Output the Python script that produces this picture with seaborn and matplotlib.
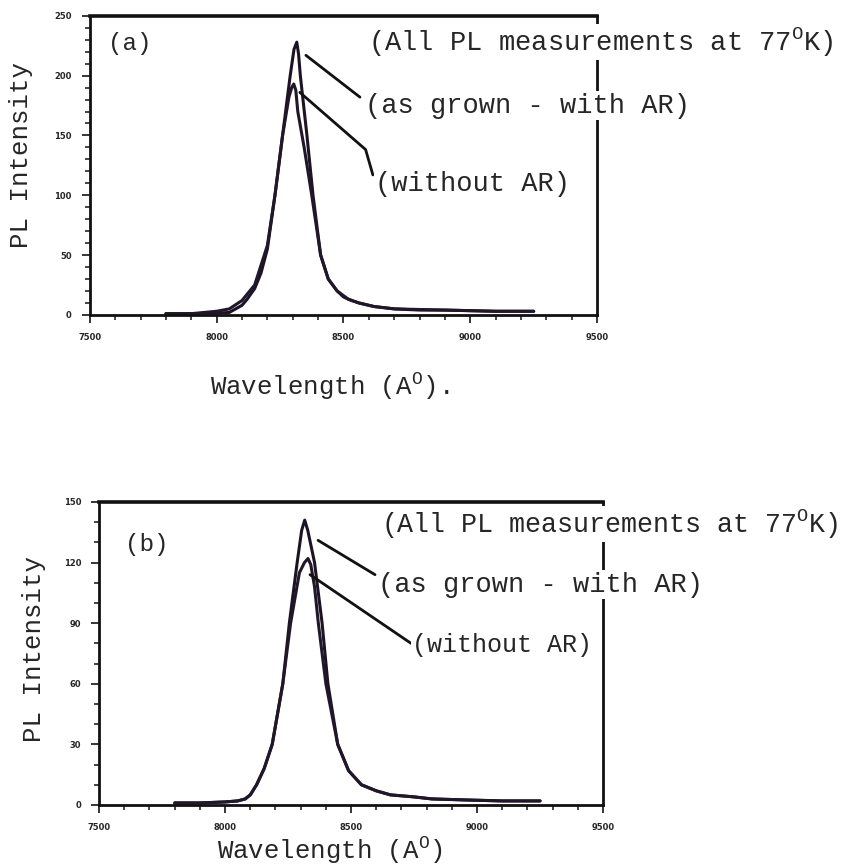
import numpy as np
import pandas as pd
import seaborn as sns
import matplotlib.pyplot as plt
from matplotlib.ticker import MultipleLocator

# --- data ---
# panel (a)
wl_a_ar = [7800, 7900, 8000, 8050, 8100, 8120, 8150, 8175, 8200, 8230, 8260, 8290, 8305, 8316,
           8323, 8330, 8356, 8380, 8410, 8440, 8475, 8500, 8520, 8560, 8600, 8620, 8700, 8800,
           8900, 9000, 9100, 9250]
pl_a_ar = [1, 1, 1.5, 2, 8, 13, 22, 35, 55, 100, 150, 200, 222, 228,
           218, 200, 150, 100, 50, 30, 20, 15, 13, 10, 8, 7, 5, 4,
           4, 3.5, 3, 3]
wl_a_noar = [7800, 7900, 7950, 8000, 8050, 8100, 8150, 8200, 8230, 8260, 8285, 8296, 8304, 8312,
             8320, 8345, 8375, 8410, 8440, 8475, 8520, 8560, 8620, 8700, 8800, 8900, 9000,
             9100, 9250]
pl_a_noar = [1, 1, 2, 3, 5, 12, 25, 58, 100, 150, 182, 190, 193, 188,
             170, 140, 100, 50, 30, 20, 13, 10, 7, 5, 4.5, 4, 3.5,
             3, 3]

# panel (b)
wl_b_ar = [7800, 7900, 8000, 8050, 8080, 8100, 8125, 8155, 8187, 8229, 8255, 8286, 8304, 8316,
           8328, 8355, 8385, 8408, 8447, 8490, 8541, 8600, 8656, 8750, 8820, 8950, 9100, 9250]
pl_b_ar = [1, 1, 1.5, 2, 3, 5, 10, 18, 30, 60, 90, 120, 136, 141,
           136, 120, 90, 60, 30, 17, 10, 7, 5, 4, 3, 2.5, 2, 2]
wl_b_noar = [7800, 7900, 8000, 8050, 8080, 8100, 8125, 8155, 8187, 8229, 8260, 8295, 8315, 8329,
             8340, 8355, 8370, 8400, 8447, 8490, 8541, 8600, 8656, 8750, 8820, 8950, 9100, 9250]
pl_b_noar = [1, 1, 1.5, 2, 3, 5, 10, 18, 30, 60, 90, 115, 120, 122,
             119, 108, 90, 60, 30, 17, 10, 7, 5, 4, 3, 2.5, 2, 2]

series_names = ['as grown - with AR', 'without AR']
x_ticks = [7500, 8000, 8500, 9000, 9500]
note_text = '(All PL measurements at 77$^{\\mathrm{O}}$K)'

sns.set_style('ticks')
plt.rcParams['font.family'] = ['Liberation Mono', 'DejaVu Sans Mono']
plt.rcParams['mathtext.fontset'] = 'custom'
plt.rcParams['mathtext.rm'] = 'Liberation Mono'

def make_frame(wl_ar, pl_ar, wl_noar, pl_noar):
    d1 = pd.DataFrame({'wl': wl_ar, 'pl': pl_ar, 'sample': series_names[0]})
    d2 = pd.DataFrame({'wl': wl_noar, 'pl': pl_noar, 'sample': series_names[1]})
    return pd.concat([d1, d2], ignore_index=True)

fig = plt.figure(figsize=(8.47, 8.65), dpi=100)
ax_a = fig.add_axes([0.106, 0.636, 0.599, 0.3457])
ax_b = fig.add_axes([0.117, 0.0694, 0.595, 0.3503])

panels = [
    dict(ax=ax_a, df=make_frame(wl_a_ar, pl_a_ar, wl_a_noar, pl_a_noar), ymax=250, ymaj=50,
         xlabel='Wavelength (A$^{\\mathrm{O}}$).', xlab_pos=(0.473, -0.185),
         ylab_pos=(-0.112, 0.535)),
    dict(ax=ax_b, df=make_frame(wl_b_ar, pl_b_ar, wl_b_noar, pl_b_noar), ymax=150, ymaj=30,
         xlabel='Wavelength (A$^{\\mathrm{O}}$)', xlab_pos=(0.458, -0.098),
         ylab_pos=(-0.105, 0.515)),
]

for p in panels:
    ax = p['ax']
    sns.lineplot(data=p['df'], x='wl', y='pl', hue='sample', estimator=None, sort=False,
                 palette=['#1c1424', '#20182a'], linewidth=2.2, legend=False, ax=ax)
    ax.set_xlim(7500, 9500)
    ax.set_ylim(0, p['ymax'])
    ax.set_xticks(x_ticks)
    ax.xaxis.set_minor_locator(MultipleLocator(100))
    ax.yaxis.set_major_locator(MultipleLocator(p['ymaj']))
    ax.yaxis.set_minor_locator(MultipleLocator(10))
    ax.tick_params(which='major', direction='out', length=6, width=1.3, labelsize=6, pad=7)
    ax.tick_params(which='minor', direction='out', length=3.5, width=1.2)
    for lab in ax.get_xticklabels() + ax.get_yticklabels():
        lab.set_fontfamily('DejaVu Sans')
        lab.set_fontweight('bold')
    for sp in ax.spines.values():
        sp.set_visible(True)
        sp.set_linewidth(2)
        sp.set_color('#111')
    ax.spines['top'].set_linewidth(2.6)
    ax.set_xlabel(p['xlabel'], fontsize=18.5)
    ax.set_ylabel('PL Intensity', fontsize=18.5)
    ax.xaxis.set_label_coords(*p['xlab_pos'])
    ax.yaxis.set_label_coords(*p['ylab_pos'])

# --- panel (a) labels and leader lines ---
ax_a.text(7571, 227, '(a)', fontsize=17.5, va='center')
txt_kw = dict(fontsize=19.5, va='center', ha='left', zorder=6, clip_on=False,
              bbox=dict(facecolor='white', edgecolor='none', pad=1))
ax_a.text(8597, 228, note_text, **txt_kw)
ax_a.text(8585, 175, '(' + series_names[0] + ')', **txt_kw)
ax_a.text(8624, 109, '(' + series_names[1] + ')', **txt_kw)
line_kw = dict(arrowstyle='-', lw=2, color='#111', shrinkA=0, shrinkB=0)
ax_a.annotate('', xy=(8352, 217), xytext=(8565, 182), arrowprops=line_kw)
ax_a.annotate('', xy=(8328, 186), xytext=(8616, 117),
              arrowprops=dict(line_kw, connectionstyle='angle,angleA=106,angleB=-41,rad=0'))

# --- panel (b) labels and leader lines ---
ax_b.text(7603, 129, '(b)', fontsize=17.5, va='center')
ax_b.text(8620, 139, note_text, **dict(txt_kw, fontsize=19.2))
ax_b.text(8607, 109, '(' + series_names[0] + ')', **txt_kw)
ax_b.text(8742, 79, '(' + series_names[1] + ')', **dict(txt_kw, fontsize=18))
ax_b.annotate('', xy=(8369, 131), xytext=(8595, 114), arrowprops=line_kw)
ax_b.annotate('', xy=(8337, 114), xytext=(8738, 80), arrowprops=line_kw)

fig.savefig('out.png', dpi=100, facecolor='white')
